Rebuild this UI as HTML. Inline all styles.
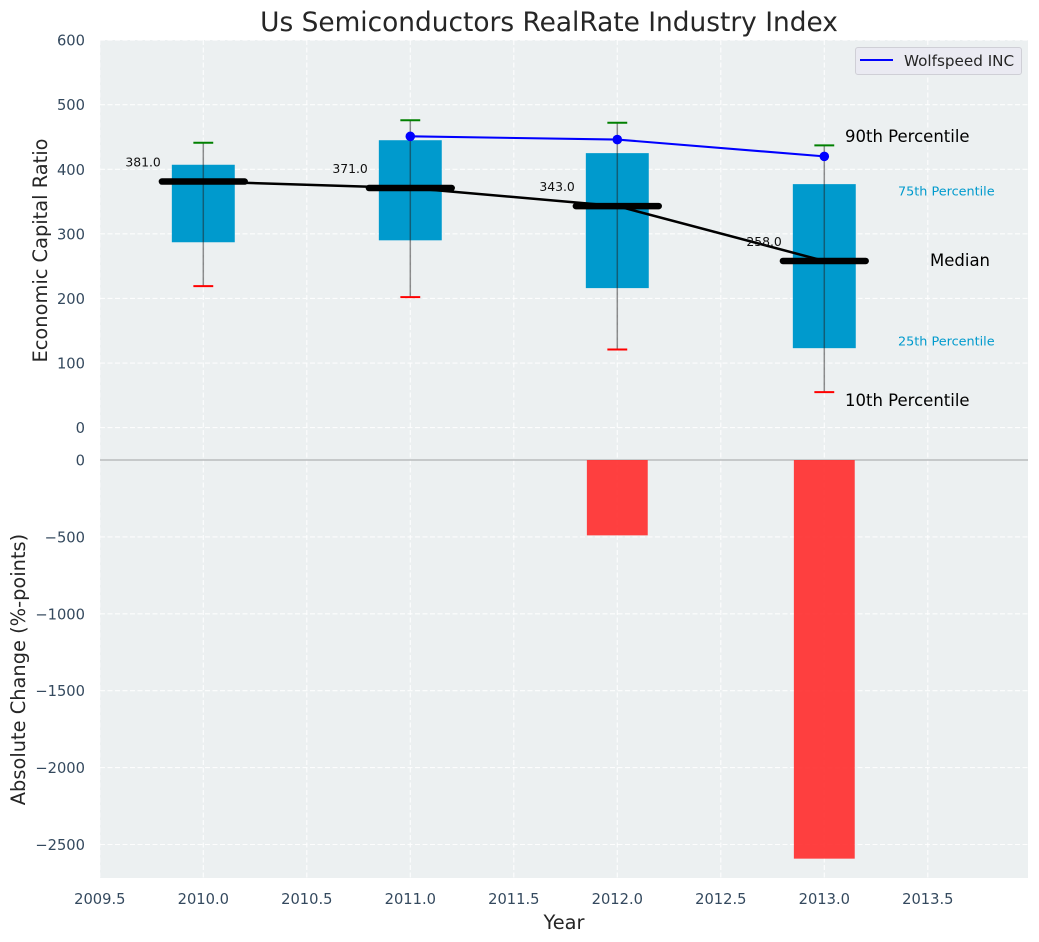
<!DOCTYPE html>
<html lang="en">
<head>
<meta charset="utf-8">
<title>Us Semiconductors RealRate Industry Index</title>
<style>
html,body{margin:0;padding:0;background:#fff;}
body{width:1039px;height:942px;overflow:hidden;}
svg{display:block;font-family:"DejaVu Sans","Liberation Sans",sans-serif;}
</style>
</head>
<body>
<svg id="chart" width="1039" height="942" viewBox="0 0 1039 942" xmlns="http://www.w3.org/2000/svg"></svg>
<script>
const years = [2010, 2011, 2012, 2013];
const p10 = [219, 202, 121, 55];
const p25 = [287, 290, 216, 123];
const medians = [381, 371, 343, 258];
const p75 = [407, 445, 425, 377];
const p90 = [441, 476, 472, 437];
const companyYears = [2011, 2012, 2013];
const companyValues = [451, 446, 420];
const changeYears = [2012, 2013];
const changeValues = [-490, -2592];
const xTicks = [2009.5, 2010, 2010.5, 2011, 2011.5, 2012, 2012.5, 2013, 2013.5];
const topTicks = [0, 100, 200, 300, 400, 500, 600];
const bottomTicks = [0, -500, -1000, -1500, -2000, -2500];

const svg = document.getElementById('chart');
const NS = 'http://www.w3.org/2000/svg';
const sx = v => 203.3 + (v - 2010) * 207;
const sy1 = v => 427.6 - v * 0.6458;
const sy2 = v => 460 - v * 0.1538;
const left = 100, right = 1028, top0 = 40, bottom0 = 878;

function add(tag, attrs, text) {
  const el = document.createElementNS(NS, tag);
  for (const k in attrs) el.setAttribute(k, attrs[k]);
  if (text !== undefined) el.textContent = text;
  svg.appendChild(el);
  return el;
}
const fmt = v => String(v).replace('-', '\u2212');
const GRID = {stroke: '#ffffff', 'stroke-width': 1.1, 'stroke-dasharray': '5 2.5', opacity: 0.9};
const TICK = {fill: '#34495e', 'font-size': 14.7};

let el = add('rect', {x: left, y: top0, width: right - left, height: bottom0 - top0, fill: '#ecf0f1'});



xTicks.forEach(t => {
  const g = add('line', Object.assign({x1: sx(t), x2: sx(t), y1: top0, y2: bottom0}, GRID));
  
  
  const l = add('text', Object.assign({x: sx(t), y: 904, 'text-anchor': 'middle'}, TICK), t.toFixed(1));
  
  
});
topTicks.forEach(t => {
  const g = add('line', Object.assign({x1: left, x2: right, y1: sy1(t), y2: sy1(t)}, GRID));
  
  
  const l = add('text', Object.assign({x: 85, y: sy1(t) + 5.5, 'text-anchor': 'end'}, TICK), fmt(t));
  
  
});
bottomTicks.forEach(t => {
  if (t !== 0) {
    const g = add('line', Object.assign({x1: left, x2: right, y1: sy2(t), y2: sy2(t)}, GRID));
    
    
  }
  const l = add('text', Object.assign({x: 85, y: sy2(t) + 5.5, 'text-anchor': 'end'}, TICK), fmt(t));
  
  
});

el = add('line', {x1: left, x2: right, y1: sy2(0), y2: sy2(0), stroke: '#b9bcbe', 'stroke-width': 1.4});



changeYears.forEach((y, i) => {
  const b = add('rect', {x: sx(y - 0.147), width: sx(0.294) - sx(0), y: sy2(0), height: sy2(changeValues[i]) - sy2(0), fill: '#ff3030', opacity: 0.92});
  
  
});

years.forEach((y, i) => {
  const b = add('rect', {x: sx(y - 0.152), width: sx(0.304) - sx(0), y: sy1(p75[i]), height: sy1(p25[i]) - sy1(p75[i]), fill: '#009acd'});
  
  
});

el = add('polyline', {points: years.map((y, i) => sx(y) + ',' + sy1(medians[i])).join(' '), fill: 'none', stroke: '#000', 'stroke-width': 2.5});



years.forEach((y, i) => {
  const w = add('line', {x1: sx(y), x2: sx(y), y1: sy1(p90[i]), y2: sy1(p10[i]), stroke: '#222', 'stroke-width': 1.5, opacity: 0.5});
  
  
  const c1 = add('line', {x1: sx(y - 0.048), x2: sx(y + 0.048), y1: sy1(p90[i]), y2: sy1(p90[i]), stroke: '#008000', 'stroke-width': 2});
  
  
  const c2 = add('line', {x1: sx(y - 0.048), x2: sx(y + 0.048), y1: sy1(p10[i]), y2: sy1(p10[i]), stroke: '#ff0000', 'stroke-width': 2});
  
  
  const m = add('line', {x1: sx(y - 0.2), x2: sx(y + 0.2), y1: sy1(medians[i]), y2: sy1(medians[i]), stroke: '#000', 'stroke-width': 6.5, 'stroke-linecap': 'round'});
  
  
  const t = add('text', {x: sx(y) - 42.5, y: sy1(medians[i]) - 15, 'text-anchor': 'end', 'font-size': 12.4, fill: '#111'}, medians[i].toFixed(1));
  
  
});

el = add('polyline', {points: companyYears.map((y, i) => sx(y) + ',' + sy1(companyValues[i])).join(' '), fill: 'none', stroke: '#0000ff', 'stroke-width': 2.1});


companyYears.forEach((y, i) => {
  const d = add('circle', {cx: sx(y), cy: sy1(companyValues[i]), r: 4.8, fill: '#0000ff'});
  
  
});
</script>

<script>
(function () {
  const s = document.getElementById('chart');
  s.insertAdjacentHTML('beforeend', `
  <text x="549" y="31" text-anchor="middle" font-size="26.4" fill="#262626">Us Semiconductors RealRate Industry Index</text>
  <text x="564" y="929" text-anchor="middle" font-size="19.4" fill="#262626">Year</text>
  <text transform="translate(47,250.5) rotate(-90)" text-anchor="middle" font-size="19.4" fill="#262626">Economic Capital Ratio</text>
  <text transform="translate(25,669.5) rotate(-90)" text-anchor="middle" font-size="19.4" fill="#262626">Absolute Change (%-points)</text>
  <text x="845" y="142" font-size="16.5" fill="#000">90th Percentile</text>
  <text x="898" y="195.5" font-size="12.8" fill="#009acd">75th Percentile</text>
  <text x="930" y="266" font-size="16.5" fill="#000">Median</text>
  <text x="898" y="345.5" font-size="12.8" fill="#009acd">25th Percentile</text>
  <text x="845" y="406" font-size="16.5" fill="#000">10th Percentile</text>
  <g>
    <rect x="855.5" y="47.5" width="166" height="27" rx="2.5" fill="#eaeaf2" stroke="#cfcfd6" stroke-width="1"/>
    <line x1="860" x2="893" y1="60" y2="60" stroke="#0000ff" stroke-width="2.1"/>
    <text x="904" y="66" font-size="15.2" fill="#262626">Wolfspeed INC</text>
  </g>`);
})();
</script>
</body>
</html>
